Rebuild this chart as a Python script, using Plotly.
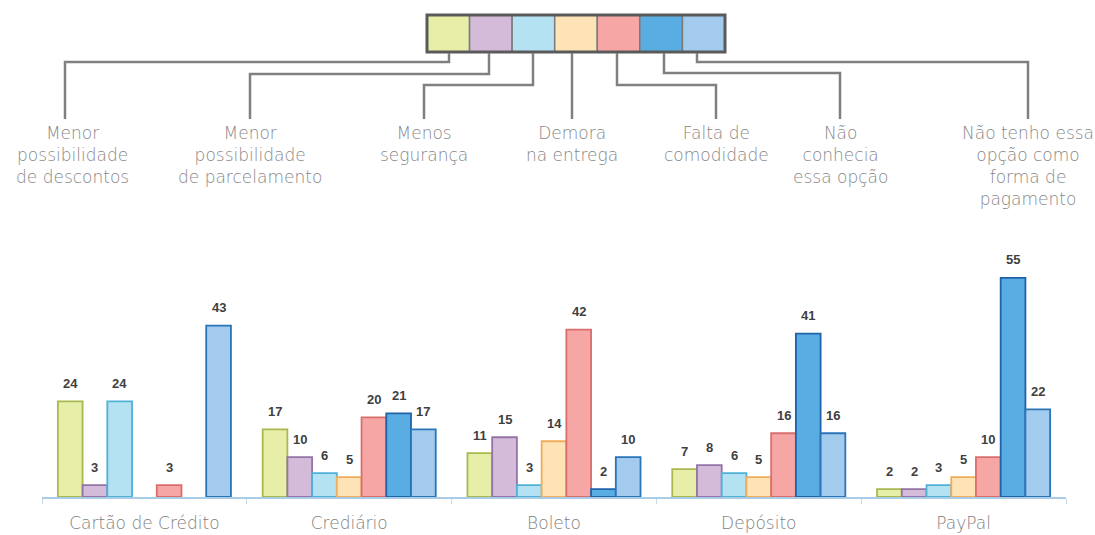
import plotly.graph_objects as go

categories = ["Cartão de Crédito", "Crediário", "Boleto", "Depósito", "PayPal"]

series_names = [
    "Menor<br>possibilidade<br>de descontos",
    "Menor<br>possibilidade<br>de parcelamento",
    "Menos<br>segurança",
    "Demora<br>na entrega",
    "Falta de<br>comodidade",
    "Não<br>conhecia<br>essa opção",
    "Não tenho essa<br>opção como<br>forma de<br>pagamento",
]

descontos = [24, 17, 11, 7, 2]
parcelamento = [3, 10, 15, 8, 2]
seguranca = [24, 6, 3, 6, 3]
demora = [0, 5, 14, 5, 5]
comodidade = [3, 20, 42, 16, 10]
nao_conhecia = [0, 21, 2, 41, 55]
nao_tenho = [43, 17, 10, 16, 22]

series_values = [descontos, parcelamento, seguranca, demora, comodidade, nao_conhecia, nao_tenho]

fills = ["#e7eea8", "#d4bbd9", "#b4e2f2", "#fde3b6", "#f6a6a4", "#5aade2", "#a2cbee"]
borders = ["#a9b84f", "#9473a6", "#4fb1d6", "#f0ad5c", "#d96f6d", "#1f63a8", "#2a74b8"]

# pixel frame of the plot area
L, R, T, B = 42, 1066, 258, 497
W, H = 1095, 535
YMAX = 60
BARGAP = 0.155

LABEL_FONT = dict(family="DejaVu Sans", size=17, color="#878787", weight=300)


def pxx(x):
    return (x - L) / (R - L)


def pxy(y):
    return (B - y) / (B - T)


fig = go.Figure()
for name, vals, fc, bc in zip(series_names, series_values, fills, borders):
    fig.add_trace(go.Bar(
        x=categories, y=[v if v else None for v in vals], name=name.replace("<br>", " "),
        marker=dict(color=fc, line=dict(color=bc, width=1.8)),
        showlegend=False, hoverinfo="x+y",
    ))

annotations = []
n = len(series_values)
w = (1 - BARGAP) / n
for j, vals in enumerate(series_values):
    for i, v in enumerate(vals):
        if not v:
            continue
        xc = i - (1 - BARGAP) / 2 + (j + 0.5) * w
        annotations.append(dict(
            x=xc, y=v, xref="x", yref="y", text=str(v), showarrow=False,
            yshift=18, yanchor="middle", xanchor="center",
            font=dict(family="Liberation Sans", size=13, color="#3f3f3f", weight="bold"),
        ))

# legend boxes at top
box_left, box_right, box_top, box_bottom = 427, 725, 15, 52
bw = (box_right - box_left) / n
shapes = []
for j in range(n):
    x0 = box_left + j * bw
    shapes.append(dict(
        type="rect", xref="paper", yref="paper",
        x0=pxx(x0), x1=pxx(x0 + bw), y0=pxy(box_bottom), y1=pxy(box_top),
        fillcolor=fills[j], line=dict(color="#7a7a7a", width=1.5), layer="above",
    ))
shapes.append(dict(
    type="rect", xref="paper", yref="paper",
    x0=pxx(box_left), x1=pxx(box_right), y0=pxy(box_bottom), y1=pxy(box_top),
    line=dict(color="#5a5a5a", width=3), fillcolor="rgba(0,0,0,0)", layer="above",
))

# connectors: (start x under box, elbow y, label x)
conn_start = [449, 489, 533, 572, 617, 664, 697]
conn_elbow = [62, 74, 85, None, 85, 73, 62]
label_x = [65, 250, 424, 572, 716, 840, 1028]
line_end = 119
for sx, ey, lx in zip(conn_start, conn_elbow, label_x):
    if ey is None:
        pts = [(sx, box_bottom + 1), (sx, line_end)]
    else:
        pts = [(sx, box_bottom + 1), (sx, ey), (lx, ey), (lx, line_end)]
    path = "M " + " L ".join(f"{pxx(a):.5f},{pxy(b):.5f}" for a, b in pts)
    shapes.append(dict(type="path", xref="paper", yref="paper", path=path,
                       line=dict(color="#808080", width=2.5)))

label_centers = [72, 250, 424, 572, 716, 840, 1028]
for name, cx in zip(series_names, label_centers):
    annotations.append(dict(
        x=pxx(cx), y=pxy(121), xref="paper", yref="paper", text=name,
        showarrow=False, xanchor="center", yanchor="top", align="center",
        font=LABEL_FONT,
    ))

fig.update_layout(
    width=W, height=H,
    margin=dict(l=L, r=W - R, t=T, b=H - B, autoexpand=False),
    paper_bgcolor="white", plot_bgcolor="white",
    barmode="group", bargap=BARGAP, bargroupgap=0,
    shapes=shapes, annotations=annotations,
    xaxis=dict(
        automargin=False,
        showline=True, linecolor="#a9cde6", linewidth=1.5,
        ticks="outside", tickson="boundaries", ticklen=5, tickcolor="#c8d8e4",
        ticklabelstandoff=10,
        tickfont=dict(family="DejaVu Sans", size=17, color="#808080", weight=300),
        showgrid=False, zeroline=False,
    ),
    yaxis=dict(range=[0, YMAX], visible=False, showgrid=False, zeroline=False,
               automargin=False),
)

fig.write_html("out.html", config={"displayModeBar": False},
               post_script="document.body.style.margin='0';")
